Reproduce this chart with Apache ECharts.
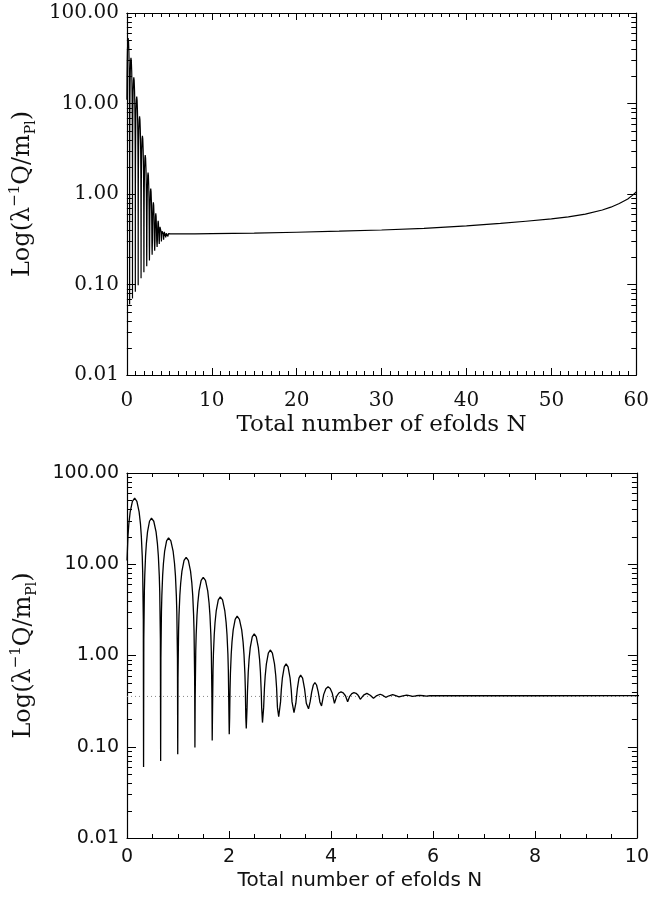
<!DOCTYPE html>
<html><head><meta charset="utf-8">
<script src="https://cdn.jsdelivr.net/npm/echarts@6/dist/echarts.min.js"></script>
<style>html,body{margin:0;padding:0;background:#fff}#c{width:652px;height:901px}</style>
</head><body><div id="c"></div>
<script>
// ---- data ----
// oscillating phase (N = total number of efolds, Q = lambda^-1 Q / m_Pl)
const oscN = [
  0, 0.019, 0.036, 0.0625, 0.106, 0.15, 0.194, 0.2375, 0.264, 0.281, 0.299, 0.3075, 0.32, 0.325,
  0.3297, 0.3405, 0.3483, 0.3638, 0.3793, 0.4025, 0.4413, 0.48, 0.525, 0.57, 0.597, 0.615, 0.633, 0.642, 0.6546, 0.66,
  0.6647, 0.6755, 0.6833, 0.6988, 0.7143, 0.7375, 0.7763, 0.815, 0.86, 0.905, 0.932, 0.95, 0.968, 0.977, 0.9896, 0.995,
  1.0, 1.0115, 1.0197, 1.0363, 1.0527, 1.0775, 1.1188, 1.16, 1.203, 1.246, 1.2718, 1.289, 1.3062, 1.3148, 1.3268, 1.332,
  1.337, 1.3483, 1.3564, 1.3728, 1.389, 1.4135, 1.4543, 1.495, 1.539, 1.583, 1.6094, 1.627, 1.6446, 1.6534, 1.6657, 1.671,
  1.676, 1.6869, 1.6948, 1.7108, 1.7266, 1.7505, 1.7903, 1.83, 1.8738, 1.9175, 1.9438, 1.9613, 1.9788, 1.9875, 2.0, 2.005,
  2.013, 2.0205, 2.028, 2.0438, 2.0592, 2.0825, 2.1213, 2.16, 2.2048, 2.2495, 2.2764, 2.2943, 2.3122, 2.3211, 2.33, 2.339,
  2.3546, 2.3624, 2.378, 2.3936, 2.417, 2.456, 2.495, 2.5355, 2.576, 2.6003, 2.6165, 2.6327, 2.6408, 2.657,
  2.68, 2.6953, 2.7105, 2.7335, 2.7718, 2.81, 2.8513, 2.8925, 2.9173, 2.9338, 2.9503, 2.975,
  3.0113, 3.026, 3.0475, 3.0838, 3.12, 3.1588, 3.1975, 3.2208, 3.2363, 3.275,
  3.3114, 3.34, 3.3725, 3.405, 3.4438, 3.4825, 3.5166, 3.56,
  3.5913, 3.6225, 3.6538, 3.685, 3.7175, 3.75, 3.7825, 3.815,
  3.858, 3.90, 3.943, 3.985, 4.026, 4.068,
  4.111, 4.154, 4.197, 4.24, 4.284, 4.327,
  4.368, 4.409, 4.45, 4.492, 4.533, 4.575,
  4.64, 4.704, 4.77, 4.834, 4.90, 4.965, 5.02, 5.074,
  5.14, 5.21, 5.27, 5.335, 5.41, 5.484, 5.54, 5.60,
  5.67, 5.745, 5.81, 5.87, 5.94, 6.0
];
const oscQ = [
  11, 20.3, 27.7, 37.5, 49.0, 53, 49.0, 37.5, 27.7, 20.3, 12.3, 8.3, 2.5, 0.060,
  1.5, 5.0, 7.5, 12.3, 16.7, 22.6, 29.6, 32, 29.6, 22.6, 16.7, 12.3, 7.5, 5.0, 1.5, 0.070,
  0.92, 3.0, 4.5, 7.5, 10.2, 13.8, 18.0, 19.5, 18.0, 13.8, 10.2, 7.5, 4.5, 3.0, 0.92, 0.083,
  0.56, 1.86, 2.77, 4.56, 6.2, 8.4, 11.0, 11.9, 11.0, 8.4, 6.2, 4.56, 2.77, 1.86, 0.56, 0.098,
  0.34, 1.12, 1.68, 2.76, 3.76, 5.1, 6.65, 7.2, 6.65, 5.1, 3.76, 2.76, 1.68, 1.12, 0.34, 0.117,
  0.21, 0.69, 1.03, 1.69, 2.30, 3.11, 4.07, 4.4, 4.07, 3.11, 2.30, 1.69, 1.03, 0.69, 0.21, 0.137,
  0.21, 0.42, 0.63, 1.03, 1.41, 1.91, 2.49, 2.7, 2.49, 1.91, 1.41, 1.03, 0.63, 0.42, 0.21, 0.159,
  0.27, 0.40, 0.66, 0.90, 1.22, 1.60, 1.73, 1.60, 1.22, 0.90, 0.66, 0.40, 0.27, 0.184,
  0.27, 0.44, 0.60, 0.81, 1.06, 1.15, 1.06, 0.81, 0.60, 0.44, 0.27, 0.213,
  0.31, 0.42, 0.57, 0.75, 0.81, 0.75, 0.57, 0.42, 0.31, 0.236,
  0.30, 0.43, 0.565, 0.61, 0.565, 0.43, 0.30, 0.26,
  0.31, 0.40, 0.475, 0.505, 0.475, 0.40, 0.31, 0.28,
  0.375, 0.433, 0.455, 0.436, 0.385, 0.299,
  0.356, 0.388, 0.40, 0.39, 0.362, 0.312,
  0.357, 0.382, 0.391, 0.385, 0.366, 0.331,
  0.368, 0.385, 0.367, 0.340, 0.364, 0.376, 0.365, 0.348,
  0.362, 0.372, 0.364, 0.353, 0.362, 0.368, 0.363, 0.356,
  0.362, 0.366, 0.362, 0.358, 0.362, 0.364
];
// slow-roll tail
const tailN = [6.3, 7, 8, 10, 15, 20, 25, 30, 35, 40, 44, 47, 50, 52, 54, 56, 57, 58, 59, 59.5, 60];
const tailQ = [0.362, 0.362, 0.362, 0.364, 0.370, 0.378, 0.388, 0.400, 0.418, 0.445, 0.473, 0.50, 0.53, 0.56, 0.60, 0.665, 0.715, 0.785, 0.88, 0.96, 1.05];
// dotted reference level (lower panel)
const refLevel = 0.356;
// log-axis minor tick values
const yMinorTicks = [0.02,0.03,0.04,0.05,0.06,0.07,0.08,0.09,0.2,0.3,0.4,0.5,0.6,0.7,0.8,0.9,2,3,4,5,6,7,8,9,20,30,40,50,60,70,80,90];

const allN = oscN.concat(tailN);
const allQ = oscQ.concat(tailQ);
const curve = allN.map((n, i) => [n, allQ[i]]);

const serif = 'DejaVu Serif';
const sans = 'DejaVu Sans';
const black = '#000';
const txt = '#111';

function xAx(grid, pos, max, interval, split, showLabel, font, fs, name, nameFont, nameFs, gap, lmargin, namePad) {
  return {
    gridIndex: grid, type: 'value', position: pos, min: 0, max: max, interval: interval,
    axisLine: { show: true, onZero: false, lineStyle: { color: black, width: 1.2 } },
    axisTick: { show: true, inside: true, length: 7, lineStyle: { color: black, width: 1 } },
    minorTick: { show: true, splitNumber: split, length: 4, lineStyle: { color: black, width: 1 } },
    splitLine: { show: false },
    axisLabel: { show: !!showLabel, fontFamily: font, fontSize: fs, color: txt, margin: lmargin },
    name: showLabel ? name : '', nameLocation: 'middle', nameGap: gap,
    nameTextStyle: { fontFamily: nameFont, fontSize: nameFs, color: txt, padding: namePad || 0 }
  };
}
const yName = '{n|Log(λ}{s|−1}{n|Q/m}{b|Pl}{n|)}';
function yAx(grid, pos, showLabel, font, fs) {
  return {
    gridIndex: grid, type: 'log', logBase: 10, position: pos, min: 0.01, max: 100,
    axisLine: { show: true, onZero: false, lineStyle: { color: black, width: 1.2 } },
    axisTick: { show: true, inside: true, length: 9, lineStyle: { color: black, width: 1 } },
    splitLine: { show: false },
    axisLabel: { show: !!showLabel, fontFamily: font, fontSize: fs, color: txt, margin: 8,
      formatter: v => Number(v).toFixed(2) },
    name: showLabel ? yName : '', nameLocation: 'middle', nameRotate: 90, nameGap: 88,
    nameTextStyle: {
      color: txt,
      rich: {
        n: { fontFamily: serif, fontSize: 24, lineHeight: 30, color: txt },
        s: { fontFamily: serif, fontSize: 15, lineHeight: 30, verticalAlign: 'top', color: txt },
        b: { fontFamily: serif, fontSize: 14, lineHeight: 30, verticalAlign: 'bottom', color: txt }
      }
    }
  };
}
function minorTickSeries(xi, yi) {
  return {
    type: 'custom', xAxisIndex: xi, yAxisIndex: yi, silent: true, clip: false,
    data: yMinorTicks.map(v => [0, v]), encode: { x: 0, y: 1 },
    renderItem: function (params, api) {
      const cs = params.coordSys;
      const p = api.coord([api.value(0), api.value(1)]);
      const y = Math.round(p[1]) + 0.5;
      return { type: 'group', children: [
        { type: 'line', shape: { x1: cs.x, y1: y, x2: cs.x + 5, y2: y }, style: { stroke: black, lineWidth: 1 } },
        { type: 'line', shape: { x1: cs.x + cs.width - 5, y1: y, x2: cs.x + cs.width, y2: y }, style: { stroke: black, lineWidth: 1 } }
      ]};
    }
  };
}

const chart = echarts.init(document.getElementById('c'), null, { renderer: 'canvas' });
chart.setOption({
  animation: false,
  backgroundColor: '#fff',
  grid: [
    { left: 126, top: 13, width: 512, height: 362 },
    { left: 127, top: 473, width: 512, height: 365 }
  ],
  xAxis: [
    xAx(0, 'bottom', 60, 10, 10, true, serif, 20, 'Total number of efolds N', serif, 23, 39, 16),
    xAx(0, 'top', 60, 10, 10, false),
    xAx(1, 'bottom', 10, 2, 4, true, sans, 19, 'Total number of efolds N', sans, 20, 33, 10, [0, 44, 0, 0]),
    xAx(1, 'top', 10, 2, 4, false)
  ],
  yAxis: [
    yAx(0, 'left', true, serif, 20),
    yAx(0, 'right', false),
    yAx(1, 'left', true, sans, 19),
    yAx(1, 'right', false)
  ],
  series: [
    { type: 'line', xAxisIndex: 0, yAxisIndex: 0, data: curve, symbol: 'none', clip: true,
      lineStyle: { color: black, width: 1.2 }, z: 2 },
    { type: 'line', xAxisIndex: 2, yAxisIndex: 2, data: [[0, refLevel], [10, refLevel]], symbol: 'none',
      lineStyle: { color: '#888', width: 1, type: [1, 3] }, z: 1 },
    { type: 'line', xAxisIndex: 2, yAxisIndex: 2, data: curve, symbol: 'none', clip: true,
      lineStyle: { color: black, width: 1.3 }, z: 2 },
    minorTickSeries(0, 0),
    minorTickSeries(2, 2)
  ]
});
</script>
</body></html>
